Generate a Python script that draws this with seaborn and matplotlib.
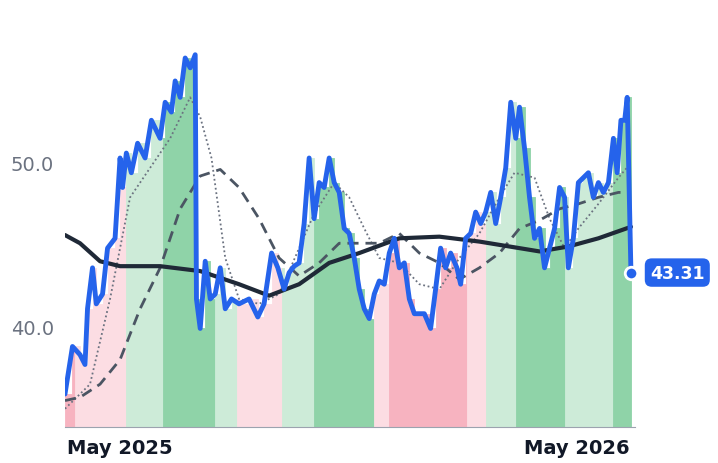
import matplotlib
matplotlib.use("Agg")
import matplotlib.pyplot as plt
import matplotlib.dates as mdates
import seaborn as sns
import pandas as pd
import numpy as np

start = pd.Timestamp("2025-03-18")

price_days = [0,6,12,16,18,22,25,30,34,40,44,46,49,53,58,64,69,76,80,85,88,92,96,100,104,105,108,112,116,120,124,128,133,139,147,154,159,165,170,175,179,183,187,191,195,199,203,207,211,215,219,223,227,231,235,239,243,247,251,255,259,263,267,271,275,279,287,292,296,300,304,308,313,316,320,324,328,332,336,340,344,348,352,356,360,363,367,371,375,379,383,387,391,395,399,402,406,410,414,418,422,426,430,434,438,441,444,447,449,452]
price = [35.9,38.8,38.3,37.7,41.1,43.6,41.4,42.0,44.8,45.4,50.3,48.5,50.6,49.4,51.2,50.3,52.6,51.5,53.7,53.1,55.0,54.0,56.4,55.8,56.6,41.7,39.9,44.0,41.7,42.0,43.6,41.1,41.7,41.4,41.7,40.6,41.4,44.5,43.6,42.3,43.3,43.7,43.9,46.3,50.3,46.6,48.8,48.5,50.3,48.8,48.2,46.0,45.7,44.2,42.3,41.1,40.5,42.0,42.8,42.6,44.5,45.4,43.6,43.9,41.7,40.8,40.8,39.9,42.3,44.8,43.6,44.5,43.6,42.6,45.4,45.7,47.0,46.3,47.0,48.2,46.3,47.9,49.7,53.7,51.5,53.4,50.9,47.9,45.4,46.0,43.6,44.8,46.0,48.5,47.9,43.6,45.4,48.8,49.1,49.4,47.9,48.8,48.2,48.8,51.5,49.4,52.6,52.6,54.0,43.31]

long_days = [0,12,28,44,76,108,139,163,187,211,235,267,299,331,363,379,402,426,452]
long_ma = [45.6,45.1,44.0,43.7,43.7,43.4,42.6,41.9,42.6,43.9,44.5,45.4,45.5,45.2,44.8,44.6,44.9,45.4,46.1]

mid_days = [0,12,28,44,60,76,92,108,124,139,155,171,187,203,219,235,251,267,283,299,315,331,347,363,379,395,410,426,442,452]
mid_ma = [35.5,35.7,36.5,38.0,41.1,43.6,47.2,49.2,49.6,48.5,46.6,44.2,43.1,43.9,45.1,45.1,45.1,45.7,44.5,43.9,42.9,43.6,44.5,46.0,46.5,47.2,47.5,47.9,48.2,48.2]

short_days = [0,20,36,52,68,84,100,108,117,128,139,155,171,187,199,215,227,239,251,267,283,299,315,331,347,359,375,387,399,410,426,442,452]
short_ma = [35.0,36.5,41.7,47.9,49.7,51.5,54.0,52.8,50.3,44.2,41.7,41.4,42.0,44.8,46.9,48.8,47.9,46.0,44.2,43.9,42.6,42.3,44.2,45.7,47.9,49.4,49.1,46.6,44.8,46.0,47.5,49.1,50.0]

regime_bounds = [0,8,49,78,120,137,173,191,199,247,259,321,336,360,399,438,452]
regime_kind = ["mr","lr","lg","mg","lg","lr","lg","lg","mg","lr","mr","lr","lg","mg","lg","mg"]
regime_colors = {"mr":"#f7b3c0","lr":"#fcdde3","lg":"#cdebd8","mg":"#8fd3a8"}

def to_dates(days):
    return [start + pd.Timedelta(days=int(d)) for d in days]

fig = plt.figure(figsize=(7.18, 4.64), dpi=100)
ax = fig.add_axes([0.0905, 0.078, 0.7935, 0.922])
sns.set_style("white")

pdates = np.array(to_dates(price_days))
pvals = np.array(price)
pd_days = np.array(price_days)
for i, k in enumerate(regime_kind):
    lo, hi = regime_bounds[i], regime_bounds[i+1]
    idx = [j for j in range(len(pd_days)) if lo <= pd_days[j] < hi]
    prev = max([j for j in range(len(pd_days)) if pd_days[j] <= lo])
    xs = [lo] + [pd_days[j] for j in idx if pd_days[j] > lo] + [hi]
    ys = [pvals[prev]] + [pvals[j] for j in idx if pd_days[j] > lo]
    ys = ys + [ys[-1]]
    ax.fill_between(to_dates(xs), 0, ys, step="post", color=regime_colors[k], lw=0.6,
                    edgecolor=regime_colors[k], zorder=1)

sns.lineplot(x=to_dates(short_days), y=short_ma, ax=ax, color="#6b7280", lw=1.3, linestyle=(0,(1,1.5)), zorder=3)
sns.lineplot(x=to_dates(mid_days), y=mid_ma, ax=ax, color="#4b5563", lw=2, linestyle=(0,(4,2.5)), zorder=3)
sns.lineplot(x=to_dates(long_days), y=long_ma, ax=ax, color="#1f2937", lw=3, zorder=4)
sns.lineplot(x=pdates, y=pvals, ax=ax, color="#2563eb", lw=3.5, zorder=5)

ax.plot([pdates[-1]], [pvals[-1]], "o", color="#2563eb", mec="white", mew=2, ms=9, clip_on=False, zorder=6)
ax.annotate(f"{price[-1]:.2f}", xy=(1.0, pvals[-1]), xycoords=("axes fraction", "data"),
            xytext=(11, 0), textcoords="offset points", va="center", ha="left",
            color="white", fontsize=12.5, fontweight="bold",
            bbox=dict(boxstyle="round,pad=0.3,rounding_size=0.4", fc="#2563eb", ec="none"))

ax.set_xlim(start, start + pd.Timedelta(days=455))
ax.set_ylim(33.9, 60)
ax.set_yticks([40, 50])
ax.set_yticklabels(["40.0", "50.0"], fontsize=14, color="#6b7280")
ax.set_xticks([pd.Timestamp("2025-05-01"), pd.Timestamp("2026-05-01")])
ax.xaxis.set_major_formatter(mdates.DateFormatter("%b %Y"))
for t in ax.get_xticklabels():
    t.set_fontsize(14); t.set_fontweight("bold"); t.set_color("#111827")
ax.tick_params(axis="both", length=0, pad=8)
for s in ["top", "right", "left"]:
    ax.spines[s].set_visible(False)
ax.spines["bottom"].set_color("#9ca3af")
ax.set_xlabel(""); ax.set_ylabel("")
ax.grid(False)
fig.savefig("out.png", dpi=100)
